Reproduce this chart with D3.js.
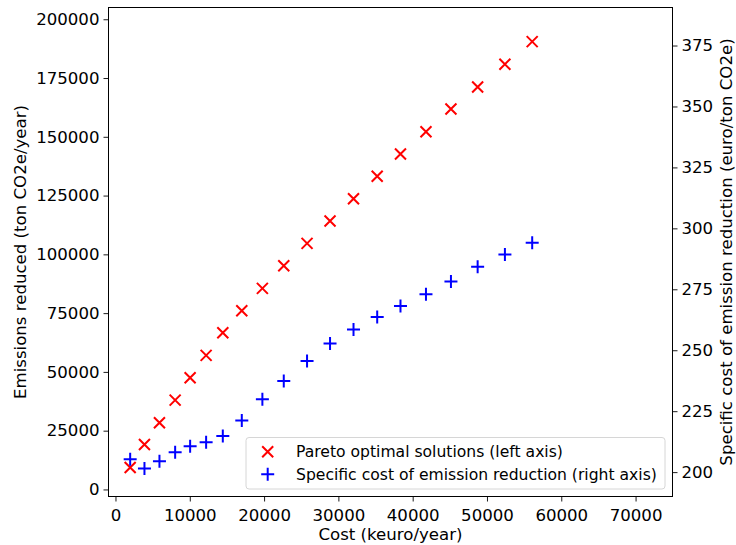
<!DOCTYPE html>
<html><head><meta charset="utf-8">
<script src="https://cdn.jsdelivr.net/npm/d3@7"></script>
<style>body{margin:0;background:#fff}svg{display:block;font-family:"DejaVu Sans",sans-serif}</style>
</head><body>
<svg id="c" width="736" height="545"></svg>
<script>
const cost = [1977,3900,5918,8030,10047,12199,14445,17000,19771,22650,25783,28877,32037,35225,38359,41789,45151,48743,52414,56086];
const emissions = [9362,19149,28340,38000,47489,57021,66638,76000,85532,95149,104681,114170,123660,133191,142681,152170,161830,171191,180851,190468];
const specificCost = [205.3,201.5,204.5,208.2,210.6,212.3,214.8,221.2,229.9,237.4,245.6,252.8,258.5,263.6,268.1,273.0,278.2,284.2,289.3,294.1];
const xTicks = [0,10000,20000,30000,40000,50000,60000,70000];
const yLeftTicks = [0,25000,50000,75000,100000,125000,150000,175000,200000];
const yRightTicks = [200,225,250,275,300,325,350,375];
const legendLabels = ["Pareto optimal solutions (left axis)","Specific cost of emission reduction (right axis)"];

const L=108.5, R=672.5, T=7.5, B=496.5;
const svg=d3.select("#c");
const x=d3.scaleLinear().domain([-940,74970]).range([L,R]);
const yL=d3.scaleLinear().domain([-3000,205000]).range([B,T]);
const yR=d3.scaleLinear().domain([190,390.6]).range([B,T]);
const fs=16.6, lfs=15.6;

function styleAxis(g){
  g.select(".domain").remove();
  g.selectAll(".tick line").attr("stroke","#000").attr("stroke-width",0.9);
  g.selectAll(".tick text").attr("fill","#000").attr("font-size",fs).attr("font-family","DejaVu Sans");
}
svg.append("g").attr("transform",`translate(0,${B})`)
  .call(d3.axisBottom(x).tickValues(xTicks).tickFormat(d3.format("d")).tickSize(5).tickPadding(4)).call(styleAxis)
  .selectAll(".tick text").attr("dy","0.95em");
svg.append("g").attr("transform",`translate(${L},0)`)
  .call(d3.axisLeft(yL).tickValues(yLeftTicks).tickFormat(d3.format("d")).tickSize(5).tickPadding(4)).call(styleAxis);
svg.append("g").attr("transform",`translate(${R},0)`)
  .call(d3.axisRight(yR).tickValues(yRightTicks).tickFormat(d3.format("d")).tickSize(5).tickPadding(4)).call(styleAxis);

svg.append("rect").attr("x",L).attr("y",T).attr("width",R-L).attr("height",B-T)
  .attr("fill","none").attr("stroke","#000").attr("stroke-width",1);

const hx=5.5, hp=6.5;
function xMark(g,cx,cy){
  g.append("path").attr("d",`M${cx-hx},${cy-hx}L${cx+hx},${cy+hx}M${cx-hx},${cy+hx}L${cx+hx},${cy-hx}`)
   .attr("stroke","#ff0000").attr("stroke-width",2).attr("fill","none");
}
function pMark(g,cx,cy){
  g.append("path").attr("d",`M${cx-hp},${cy}L${cx+hp},${cy}M${cx},${cy-hp}L${cx},${cy+hp}`)
   .attr("stroke","#0000ff").attr("stroke-width",2).attr("fill","none");
}
const gm=svg.append("g");
cost.forEach((c,i)=>xMark(gm,x(c),yL(emissions[i])));
cost.forEach((c,i)=>pMark(gm,x(c),yR(specificCost[i])));

// legend
const lg=svg.append("g");
lg.append("rect").attr("x",246).attr("y",437.5).attr("width",419).attr("height",51.5).attr("rx",3)
  .attr("fill","#fff").attr("fill-opacity",0.8).attr("stroke","#d6d6d6").attr("stroke-width",1);
xMark(lg,267.7,451.7);
pMark(lg,267.7,474.3);
lg.append("text").attr("x",296).attr("y",451.7).attr("dy","0.35em").attr("font-size",lfs).text(legendLabels[0]);
lg.append("text").attr("x",296).attr("y",474.3).attr("dy","0.35em").attr("font-size",lfs).text(legendLabels[1]);

svg.append("text").attr("x",(L+R)/2).attr("y",540).attr("text-anchor","middle").attr("font-size",fs).text("Cost (keuro/year)");
svg.append("text").attr("transform",`translate(26,${(T+B)/2}) rotate(-90)`).attr("text-anchor","middle").attr("font-size",fs).text("Emissions reduced (ton CO2e/year)");
svg.append("text").attr("transform",`translate(731.5,${(T+B)/2}) rotate(-90)`).attr("text-anchor","middle").attr("font-size",fs).text("Specific cost of emission reduction (euro/ton CO2e)");
</script>
</body></html>
